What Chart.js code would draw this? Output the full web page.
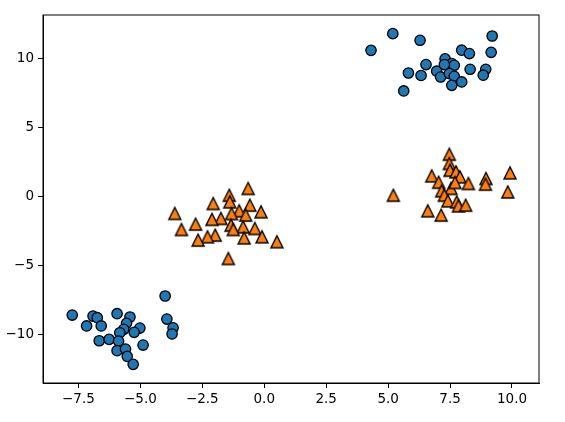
<!DOCTYPE html>
<html>
<head>
<meta charset="utf-8">
<script src="https://cdn.jsdelivr.net/npm/chart.js@4/dist/chart.umd.min.js"></script>
<style>
  html, body { margin: 0; padding: 0; background: #fff; }
</style>
</head>
<body>
<canvas id="chart" width="565" height="422"></canvas>
<script>
// class 0 (blue circles)
const class0X = [-7.75, -6.91, -6.74, -7.17, -6.58, -5.94, -5.42, -5.56, -5.67, -5.02, -5.25, -5.83,
  -6.66, -6.26, -5.88, -4.89, -5.94, -5.60, -5.53, -5.29, -4.00, -3.93, -3.68, -3.72,
  5.19, 4.31, 6.29, 9.20, 9.16, 7.97, 8.28, 6.53, 7.30, 7.57, 7.67, 5.82,
  6.33, 6.96, 7.12, 7.47, 7.67, 7.97, 7.57, 8.31, 8.94, 8.84, 5.63, 7.27];
const class0Y = [-8.59, -8.66, -8.78, -9.38, -9.38, -8.49, -8.73, -9.19, -9.62, -9.53, -9.84, -9.87,
  -10.45, -10.35, -10.47, -10.76, -11.17, -11.05, -11.58, -12.16, -7.21, -8.88, -9.51, -9.96,
  11.79, 10.58, 11.31, 11.62, 10.44, 10.59, 10.35, 9.55, 9.96, 9.62, 9.50, 8.94,
  8.76, 9.07, 8.65, 8.90, 8.70, 8.29, 8.05, 9.21, 9.21, 8.78, 7.64, 9.55];

// class 1 (orange triangles)
const class1X = [-0.65, -1.41, -1.39, -2.06, -0.58, -1.01, -1.32, -0.75, -0.13, -3.61, -1.75, -2.11,
  -1.34, -0.85, -0.38, -1.25, -2.77, -3.34, -1.98, -2.29, -2.67, -0.81, -0.09, 0.51, -1.45,
  7.47, 7.47, 7.50, 7.74, 7.90, 6.76, 7.04, 7.54, 7.70, 8.24, 7.16, 7.27,
  7.41, 7.77, 7.84, 8.13, 6.60, 7.14, 5.21, 8.95, 8.93, 9.92, 9.83];
const class1Y = [0.58, 0.09, -0.39, -0.51, -0.63, -1.04, -1.24, -1.35, -1.11, -1.23, -1.59, -1.66,
  -2.08, -2.20, -2.32, -2.39, -2.00, -2.39, -2.80, -2.92, -3.16, -3.00, -2.92, -3.28, -4.49,
  3.06, 2.39, 1.90, 1.78, 1.42, 1.49, 1.03, 0.58, 1.01, 0.94, 0.41, 0.09,
  -0.32, -0.39, -0.68, -0.63, -1.04, -1.35, 0.09, 1.30, 0.89, 1.71, 0.33];

const xTicks = [-7.5, -5.0, -2.5, 0.0, 2.5, 5.0, 7.5, 10.0];
const yTicks = [-10, -5, 0, 5, 10];

const toPoints = (xs, ys) => xs.map((x, i) => ({ x: x, y: ys[i] }));
const minus = (s) => s.replace('-', '\u2212');

// matplotlib-like '^' marker: equal width and height, centred on its box
function triangleMarker(size, fill) {
  const c = document.createElement('canvas');
  const pad = 3;
  c.width = size + pad * 2;
  c.height = size + pad * 2;
  const g = c.getContext('2d');
  g.beginPath();
  g.moveTo(pad + size / 2, pad);
  g.lineTo(pad, pad + size);
  g.lineTo(pad + size, pad + size);
  g.closePath();
  g.fillStyle = fill;
  g.fill();
  g.lineWidth = 1.4;
  g.lineJoin = 'miter';
  g.strokeStyle = '#000';
  g.stroke();
  return c;
}

// top and right spines
const frame = {
  id: 'frame',
  afterDraw(chart) {
    const a = chart.chartArea;
    const ctx = chart.ctx;
    ctx.save();
    ctx.strokeStyle = '#000';
    ctx.lineWidth = 1;
    ctx.strokeRect(a.left, a.top, a.right - a.left, a.bottom - a.top);
    ctx.restore();
  }
};

const font = { family: 'DejaVu Sans', size: 13.5 };

new Chart(document.getElementById('chart').getContext('2d'), {
  type: 'scatter',
  data: {
    datasets: [
      {
        label: 'class 0',
        data: toPoints(class0X, class0Y),
        pointStyle: 'circle',
        pointRadius: 5.2,
        backgroundColor: '#1f77b4',
        borderColor: '#000',
        borderWidth: 1.3,
      },
      {
        label: 'class 1',
        data: toPoints(class1X, class1Y),
        pointStyle: triangleMarker(12, '#ff7f0e'),
        pointRadius: 6,
        backgroundColor: '#ff7f0e',
        borderColor: '#000',
        borderWidth: 1.3,
      },
    ],
  },
  options: {
    responsive: false,
    animation: false,
    events: [],
    layout: { padding: { top: 15, right: 26, left: 0, bottom: 0 } },
    plugins: {
      legend: { display: false },
      tooltip: { enabled: false },
    },
    scales: {
      x: {
        type: 'linear',
        min: -8.93,
        max: 11.09,
        afterBuildTicks: (s) => { s.ticks = xTicks.map(v => ({ value: v })); },
        afterFit: (s) => { s.height = 39; },
        ticks: {
          color: '#000',
          font: font,
          padding: 3,
          maxRotation: 0,
          autoSkip: false,
          callback: (v) => minus(v.toFixed(1)),
        },
        grid: { drawOnChartArea: false, drawTicks: true, tickLength: 5, tickColor: '#000', tickWidth: 1 },
        border: { color: '#000', width: 1 },
      },
      y: {
        type: 'linear',
        min: -13.51,
        max: 13.14,
        afterBuildTicks: (s) => { s.ticks = yTicks.map(v => ({ value: v })); },
        afterFit: (s) => { s.width = 43; },
        ticks: {
          color: '#000',
          font: font,
          padding: 4,
          autoSkip: false,
          callback: (v) => minus(String(v)),
        },
        grid: { drawOnChartArea: false, drawTicks: true, tickLength: 5, tickColor: '#000', tickWidth: 1 },
        border: { color: '#000', width: 1 },
      },
    },
  },
  plugins: [frame],
});
</script>
</body>
</html>
